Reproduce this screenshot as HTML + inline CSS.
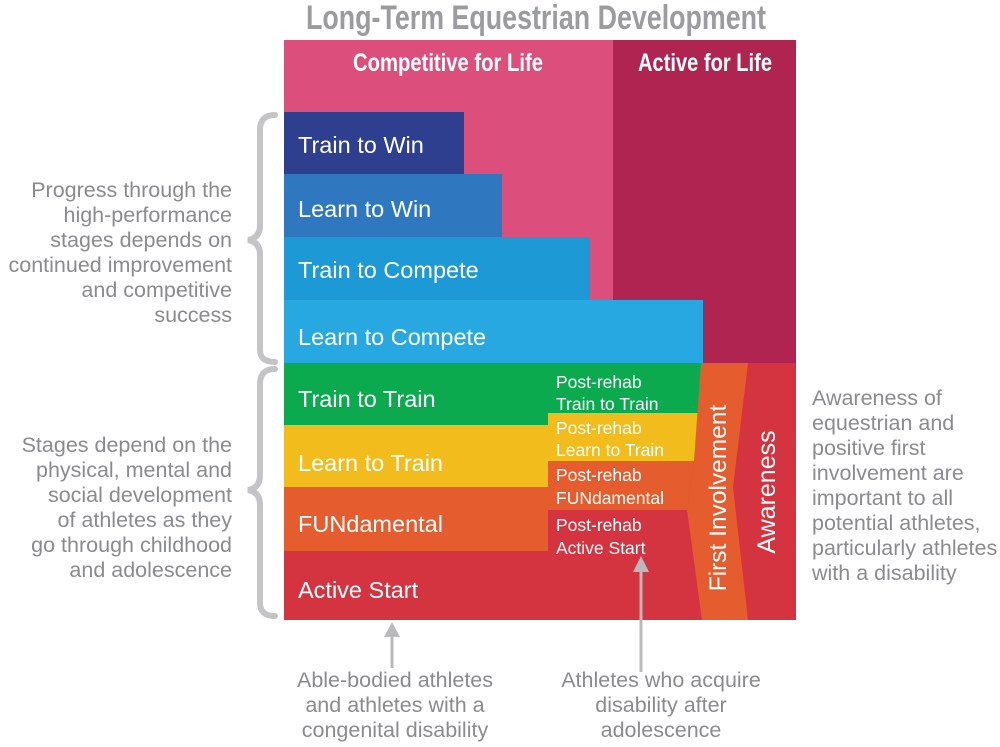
<!DOCTYPE html>
<html><head><meta charset="utf-8"><style>
body{margin:0;background:#fff;}
svg text{font-family:"Liberation Sans",sans-serif;}
</style></head><body>
<svg width="1000" height="742" viewBox="0 0 1000 742" xmlns="http://www.w3.org/2000/svg">
<text x="536" y="29" text-anchor="middle" font-weight="bold" font-size="34" fill="#9b9c9f" style="font-family:'Liberation Sans Narrow','Liberation Sans',sans-serif" textLength="460" lengthAdjust="spacingAndGlyphs">Long-Term Equestrian Development</text>
<rect x="284" y="40" width="330" height="326" fill="#dc4e7c"/>
<rect x="613" y="40" width="183" height="326" fill="#b02452"/>
<text x="448" y="71" text-anchor="middle" font-weight="bold" font-size="25" fill="#fff" style="font-family:'Liberation Sans Narrow','Liberation Sans',sans-serif" textLength="190" lengthAdjust="spacingAndGlyphs">Competitive for Life</text>
<text x="705" y="71" text-anchor="middle" font-weight="bold" font-size="25" fill="#fff" style="font-family:'Liberation Sans Narrow','Liberation Sans',sans-serif" textLength="134" lengthAdjust="spacingAndGlyphs">Active for Life</text>
<rect x="284" y="112" width="180" height="63" fill="#2e3f8f"/>
<rect x="284" y="174" width="218" height="64" fill="#2f78bf"/>
<rect x="284" y="237" width="306" height="64" fill="#1d9ad6"/>
<rect x="284" y="300" width="419" height="64" fill="#28a8e0"/>
<rect x="284" y="363" width="512" height="257" fill="#d43340"/>
<rect x="284" y="363" width="264" height="63" fill="#0caa4e"/>
<rect x="548" y="363" width="153" height="50" fill="#0caa4e"/>
<rect x="284" y="425" width="264" height="63" fill="#f3bc1d"/>
<polygon points="548,413 701,413 694,461 548,461" fill="#f3bc1d"/>
<rect x="284" y="487" width="264" height="64" fill="#e55d2f"/>
<polygon points="548,461 694,461 687,510 548,510" fill="#e55d2f"/>
<polygon points="701,363 748,363 733,487 748,620 702,620 687,510 694,461" fill="#e55d2f"/>
<g fill="#fff" font-size="23.5">
<text x="298" y="153">Train to Win</text>
<text x="298" y="217">Learn to Win</text>
<text x="298" y="278">Train to Compete</text>
<text x="298" y="345">Learn to Compete</text>
<text x="298" y="407">Train to Train</text>
<text x="298" y="471">Learn to Train</text>
<text x="298" y="532">FUNdamental</text>
<text x="298" y="598">Active Start</text>
</g>
<g fill="#fff" font-size="17.5">
<text x="556" y="388">Post-rehab</text><text x="556" y="410">Train to Train</text>
<text x="556" y="434">Post-rehab</text><text x="556" y="456">Learn to Train</text>
<text x="556" y="481">Post-rehab</text><text x="556" y="504">FUNdamental</text>
<text x="556" y="531">Post-rehab</text><text x="556" y="554">Active Start</text>
</g>
<text transform="translate(726,498) rotate(-90)" text-anchor="middle" fill="#fff" font-size="24.5">First Involvement</text>
<text transform="translate(775,492) rotate(-90)" text-anchor="middle" fill="#fff" font-size="25">Awareness</text>
<g fill="none" stroke="#c4c4c6" stroke-width="6" stroke-linecap="round">
<path d="M275,115 Q260,115 260,130 L260,225 Q260,238 248,240 Q260,242 260,255 L260,350 Q260,362 275,362"/>
<path d="M275,369 Q260,369 260,384 L260,475 Q260,488 248,490 Q260,492 260,505 L260,603 Q260,616 275,616"/>
</g>
<g fill="#8a8b8e" font-size="21.5" text-anchor="end">
<text x="232" y="197">Progress through the</text>
<text x="232" y="222">high-performance</text>
<text x="232" y="247">stages depends on</text>
<text x="232" y="272">continued improvement</text>
<text x="232" y="297">and competitive</text>
<text x="232" y="322">success</text>
<text x="232" y="452">Stages depend on the</text>
<text x="232" y="477">physical, mental and</text>
<text x="232" y="502">social development</text>
<text x="232" y="527">of athletes as they</text>
<text x="232" y="552">go through childhood</text>
<text x="232" y="577">and adolescence</text>
</g>
<g fill="#8a8b8e" font-size="21.5">
<text x="812" y="405">Awareness of</text>
<text x="812" y="430">equestrian and</text>
<text x="812" y="455">positive first</text>
<text x="812" y="480">involvement are</text>
<text x="812" y="505">important to all</text>
<text x="812" y="530">potential athletes,</text>
<text x="812" y="555">particularly athletes</text>
<text x="812" y="580">with a disability</text>
</g>
<g stroke="#b9babc" stroke-width="3"><line x1="392" y1="634" x2="392" y2="668"/><line x1="641" y1="568" x2="641" y2="672"/></g>
<g fill="#b9babc"><polygon points="392,622 384,637 400,637"/><polygon points="641,556 633,572 649,572"/></g>
<g fill="#8a8b8e" font-size="21.5" text-anchor="middle">
<text x="395" y="687">Able-bodied athletes</text>
<text x="395" y="712">and  athletes with a</text>
<text x="395" y="737">congenital disability</text>
<text x="661" y="687">Athletes who acquire</text>
<text x="661" y="712">disability after</text>
<text x="661" y="737">adolescence</text>
</g>
</svg>
</body></html>
